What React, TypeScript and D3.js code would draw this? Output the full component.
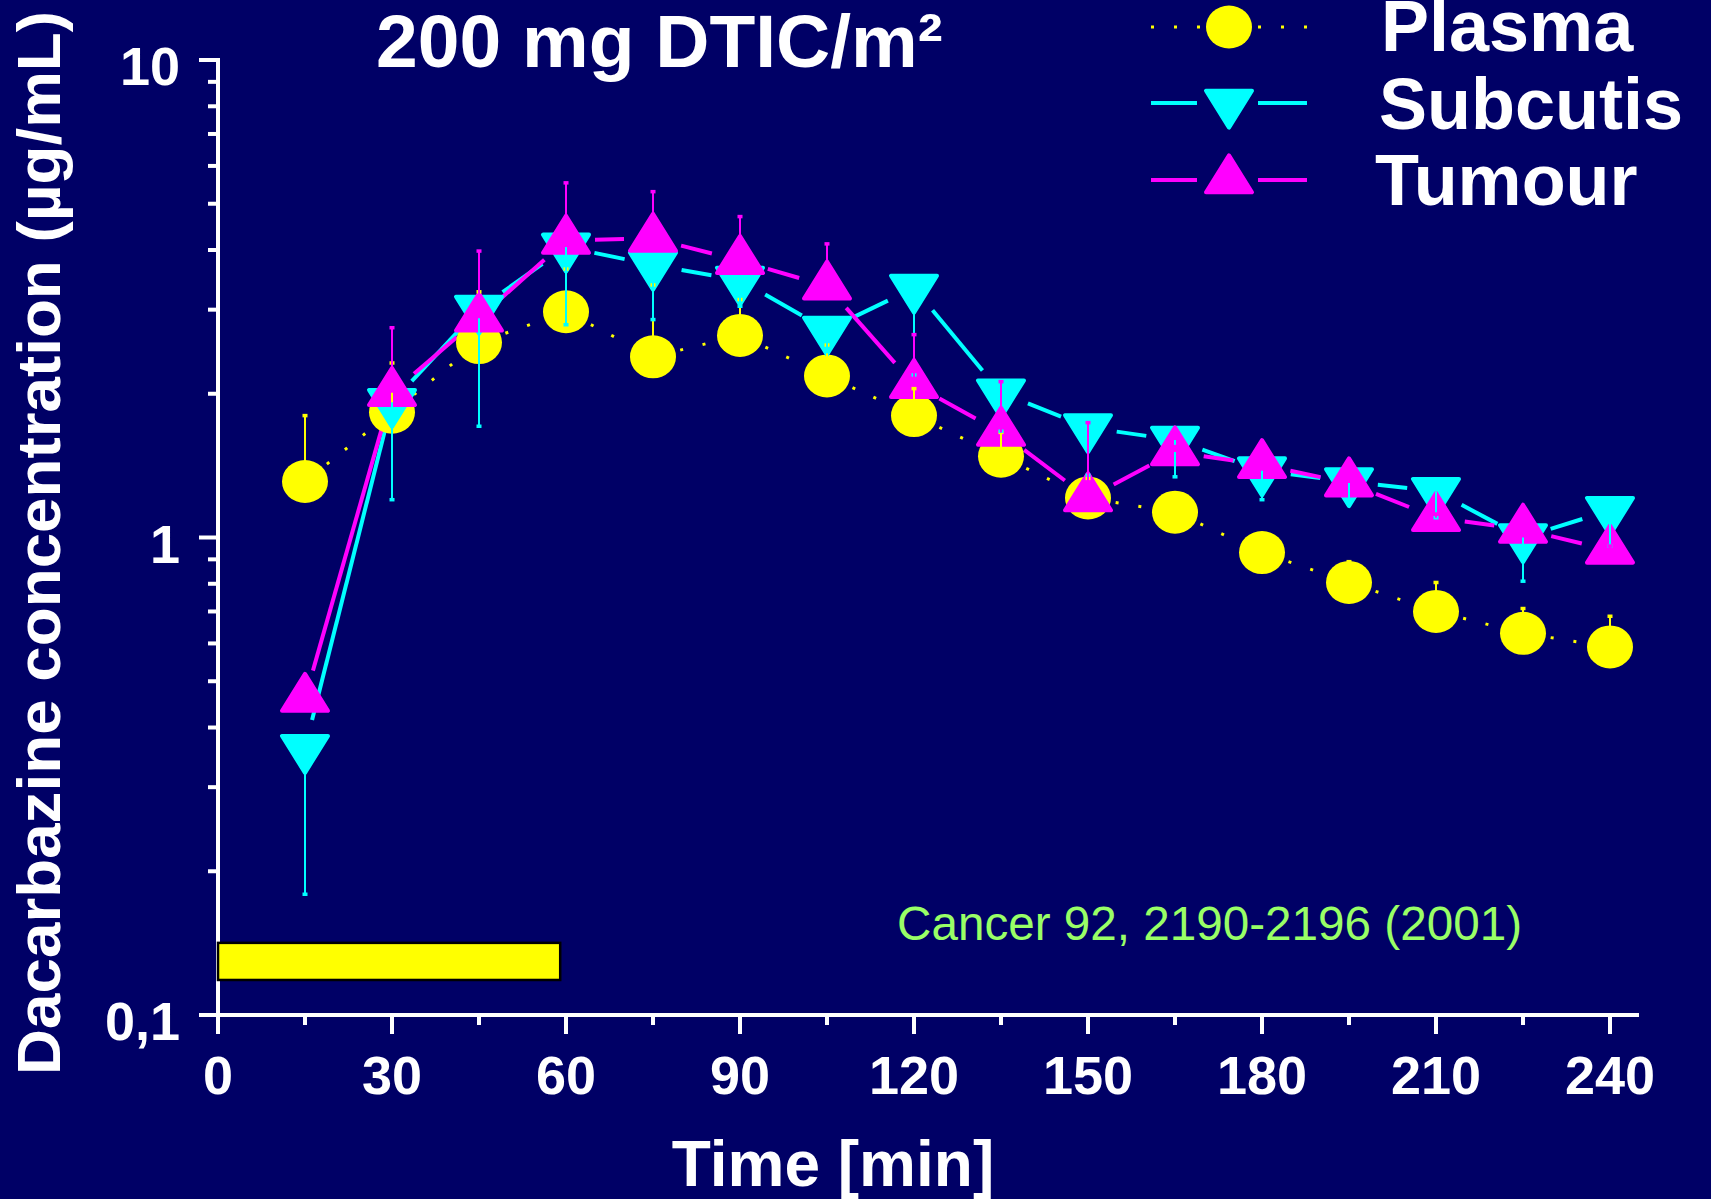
import React from "react";
import * as d3 from "d3";

// Sampling times (min)
const times = [15, 30, 45, 60, 75, 90, 105, 120, 135, 150, 165, 180, 195, 210, 225, 240];

// Dacarbazine concentration (µg/mL), mean values
const plasma = [1.31, 1.83, 2.56, 2.97, 2.39, 2.65, 2.18, 1.8, 1.48, 1.21, 1.13, 0.93, 0.805, 0.7, 0.63, 0.59];
const plasmaUpper = [1.8, 2.32, 3.27, 3.65, 3.38, 3.15, 2.53, 2.05, 1.66, 1.33, 1.2, 0.99, 0.89, 0.805, 0.71, 0.684];

const subcutis = [0.362, 1.92, 3.01, 4.06, 3.72, 3.46, 2.72, 3.33, 2.01, 1.7, 1.6, 1.38, 1.31, 1.25, 1.0, 1.14];
const subcutisLower = [0.179, 1.2, 1.71, 2.79, 2.86, 3.05, 2.45, 2.19, 1.67, 1.35, 1.34, 1.2, 1.2, 1.1, 0.81, 0.96];

const tumour = [0.46, 2.01, 2.88, 4.19, 4.23, 3.8, 3.36, 2.09, 1.66, 1.21, 1.51, 1.42, 1.3, 1.1, 1.04, 0.94];
const tumourUpper = [0.48, 2.75, 3.98, 5.53, 5.3, 4.7, 4.12, 2.66, 2.12, 1.74, 1.55, 1.45, 1.32, 1.12, 1.06, 0.96];

// Infusion period shown as a bar near the bottom of the plot
const infusion = { start: 0, end: 59, low: 0.1184, high: 0.1416 };

const xTicks = [0, 30, 60, 90, 120, 150, 180, 210, 240];
const xMinorTicks = [15, 45, 75, 105, 135, 165, 195, 225];
const yMajorTicks = [0.1, 1, 10];
const yMajorLabels = ["0,1", "1", "10"];

const seriesNames = ["Plasma", "Subcutis", "Tumour"];

const BG = "#000066";
const YELLOW = "#ffff00";
const CYAN = "#00ffff";
const MAGENTA = "#ff00ff";
const FONT = "'Liberation Sans', Arial, Helvetica, sans-serif";

const W = 1711;
const H = 1199;

const x = d3.scaleLinear().domain([0, 245]).range([218, 1639]);
const y = d3.scaleLog().domain([0.1, 10]).range([1015, 60]);

const yMinor: number[] = [];
[0.1, 1].forEach((d) => {
  for (let k = 2; k <= 9; k++) yMinor.push(d * k);
});

// triangles are placed with their centroid on the data point
const TW = 46;
const TH = 37;
function triangle(cx: number, cy: number, down: boolean) {
  const p = d3.path();
  if (down) {
    p.moveTo(cx - TW / 2, cy - TH / 3);
    p.lineTo(cx + TW / 2, cy - TH / 3);
    p.lineTo(cx, cy + (2 * TH) / 3);
  } else {
    p.moveTo(cx, cy - (2 * TH) / 3);
    p.lineTo(cx + TW / 2, cy + TH / 3);
    p.lineTo(cx - TW / 2, cy + TH / 3);
  }
  p.closePath();
  return p.toString();
}

// segments between consecutive points, trimmed back from each marker
function segments(values: number[], gap: number) {
  const out: { x1: number; y1: number; x2: number; y2: number }[] = [];
  for (let i = 0; i < values.length - 1; i++) {
    const ax = x(times[i]);
    const ay = y(values[i]);
    const bx = x(times[i + 1]);
    const by = y(values[i + 1]);
    const len = Math.hypot(bx - ax, by - ay);
    if (len <= 2 * gap) continue;
    const ux = (bx - ax) / len;
    const uy = (by - ay) / len;
    out.push({ x1: ax + ux * gap, y1: ay + uy * gap, x2: bx - ux * gap, y2: by - uy * gap });
  }
  return out;
}

function ErrorBar({ t, from, to, color }: { t: number; from: number; to: number; color: string }) {
  const cx = x(t);
  return (
    <g stroke={color}>
      <line x1={cx} x2={cx} y1={y(from)} y2={y(to)} strokeWidth={2} />
      <line x1={cx - 2.5} x2={cx + 2.5} y1={y(to)} y2={y(to)} strokeWidth={3.5} />
    </g>
  );
}

export default function App() {
  const plasmaSegs = segments(plasma, 28);
  const subSegs = segments(subcutis, 29);
  const tumSegs = segments(tumour, 29);

  return (
    <svg
      width={W}
      height={H}
      viewBox={`0 0 ${W} ${H}`}
      style={{ position: "absolute", left: 0, top: 0, display: "block" }}
      fontFamily={FONT}
    >
      <rect x={0} y={0} width={W} height={H} fill={BG} />

      {/* title */}
      <text x={376} y={67} fill="#fff" fontSize={75} fontWeight="bold">
        200 mg DTIC/m²
      </text>

      {/* axes */}
      <g stroke="#fff" strokeWidth={4}>
        <line x1={x(0)} x2={x(0)} y1={y(10) - 2} y2={y(0.1)} />
        <line x1={199} x2={1639} y1={y(0.1)} y2={y(0.1)} />
        {yMajorTicks.map((v) => (
          <line key={"ym" + v} x1={199} x2={x(0)} y1={y(v)} y2={y(v)} />
        ))}
        {yMinor.map((v) => (
          <line key={"yn" + v} x1={208} x2={x(0)} y1={y(v)} y2={y(v)} />
        ))}
        {xTicks.map((t) => (
          <line key={"xm" + t} x1={x(t)} x2={x(t)} y1={y(0.1)} y2={y(0.1) + 19} />
        ))}
        {xMinorTicks.map((t) => (
          <line key={"xn" + t} x1={x(t)} x2={x(t)} y1={y(0.1)} y2={y(0.1) + 10} />
        ))}
      </g>

      {/* tick labels */}
      <g fill="#fff" fontSize={54} fontWeight="bold">
        {xTicks.map((t) => (
          <text key={"xl" + t} x={x(t)} y={1094} textAnchor="middle">
            {t}
          </text>
        ))}
        {yMajorTicks.map((v, i) => (
          <text key={"yl" + v} x={180} y={y(v) + 25} textAnchor="end">
            {yMajorLabels[i]}
          </text>
        ))}
      </g>

      {/* axis titles */}
      <text x={833} y={1186} fill="#fff" fontSize={64} fontWeight="bold" textAnchor="middle">
        Time [min]
      </text>
      <text
        transform="translate(60,543) rotate(-90)"
        fill="#fff"
        fontSize={62}
        fontWeight="bold"
        textAnchor="middle"
        textLength={1064}
        lengthAdjust="spacingAndGlyphs"
      >
        Dacarbazine concentration (µg/mL)
      </text>

      {/* infusion bar */}
      <rect
        x={x(infusion.start)}
        y={y(infusion.high)}
        width={x(infusion.end) - x(infusion.start)}
        height={y(infusion.low) - y(infusion.high)}
        fill={YELLOW}
        stroke="#000"
        strokeWidth={2.5}
      />

      {/* citation */}
      <text x={897} y={940} fill="#99ff66" fontSize={48} textLength={625} lengthAdjust="spacingAndGlyphs">
        Cancer 92, 2190-2196 (2001)
      </text>

      {/* connecting lines */}
      <g strokeLinecap="butt">
        {plasmaSegs.map((s, i) => (
          <line key={"pl" + i} {...s} stroke={YELLOW} strokeWidth={3} strokeDasharray="3 20" />
        ))}
        {subSegs.map((s, i) => (
          <line key={"sl" + i} {...s} stroke={CYAN} strokeWidth={4} />
        ))}
        {tumSegs.map((s, i) => (
          <line key={"tl" + i} {...s} stroke={MAGENTA} strokeWidth={4} />
        ))}
      </g>

      {/* markers */}
      {plasma.map((v, i) => (
        <ellipse key={"pm" + i} cx={x(times[i])} cy={y(v)} rx={23} ry={21.5} fill={YELLOW} />
      ))}
      {subcutis.map((v, i) => (
        <path
          key={"sm" + i}
          d={triangle(x(times[i]), y(v), true)}
          fill={CYAN}
          stroke={CYAN}
          strokeWidth={4}
          strokeLinejoin="round"
        />
      ))}
      {tumour.map((v, i) => (
        <path
          key={"tm" + i}
          d={triangle(x(times[i]), y(v), false)}
          fill={MAGENTA}
          stroke={MAGENTA}
          strokeWidth={4}
          strokeLinejoin="round"
        />
      ))}

      {/* error bars */}
      {plasma.map((v, i) => (
        <ErrorBar key={"pe" + i} t={times[i]} from={v} to={plasmaUpper[i]} color={YELLOW} />
      ))}
      {subcutis.map((v, i) => (
        <ErrorBar key={"se" + i} t={times[i]} from={v} to={subcutisLower[i]} color={CYAN} />
      ))}
      {tumour.map((v, i) => (
        <ErrorBar key={"te" + i} t={times[i]} from={v} to={tumourUpper[i]} color={MAGENTA} />
      ))}

      {/* legend */}
      <g>
        <line x1={1151} x2={1201} y1={27} y2={27} stroke={YELLOW} strokeWidth={3} strokeDasharray="3 20" />
        <line x1={1258} x2={1308} y1={27} y2={27} stroke={YELLOW} strokeWidth={3} strokeDasharray="3 20" />
        <ellipse cx={1229} cy={27} rx={23} ry={21.5} fill={YELLOW} />

        <line x1={1151} x2={1197} y1={103} y2={103} stroke={CYAN} strokeWidth={4} />
        <line x1={1258} x2={1307} y1={103} y2={103} stroke={CYAN} strokeWidth={4} />
        <path d={triangle(1229, 103, true)} fill={CYAN} stroke={CYAN} strokeWidth={4} strokeLinejoin="round" />

        <line x1={1151} x2={1197} y1={180} y2={180} stroke={MAGENTA} strokeWidth={4} />
        <line x1={1258} x2={1307} y1={180} y2={180} stroke={MAGENTA} strokeWidth={4} />
        <path d={triangle(1229, 180, false)} fill={MAGENTA} stroke={MAGENTA} strokeWidth={4} strokeLinejoin="round" />

        <g fill="#fff" fontSize={72} fontWeight="bold">
          <text x={1381} y={51}>{seriesNames[0]}</text>
          <text x={1379} y={129}>{seriesNames[1]}</text>
          <text x={1375} y={205}>{seriesNames[2]}</text>
        </g>
      </g>
    </svg>
  );
}
